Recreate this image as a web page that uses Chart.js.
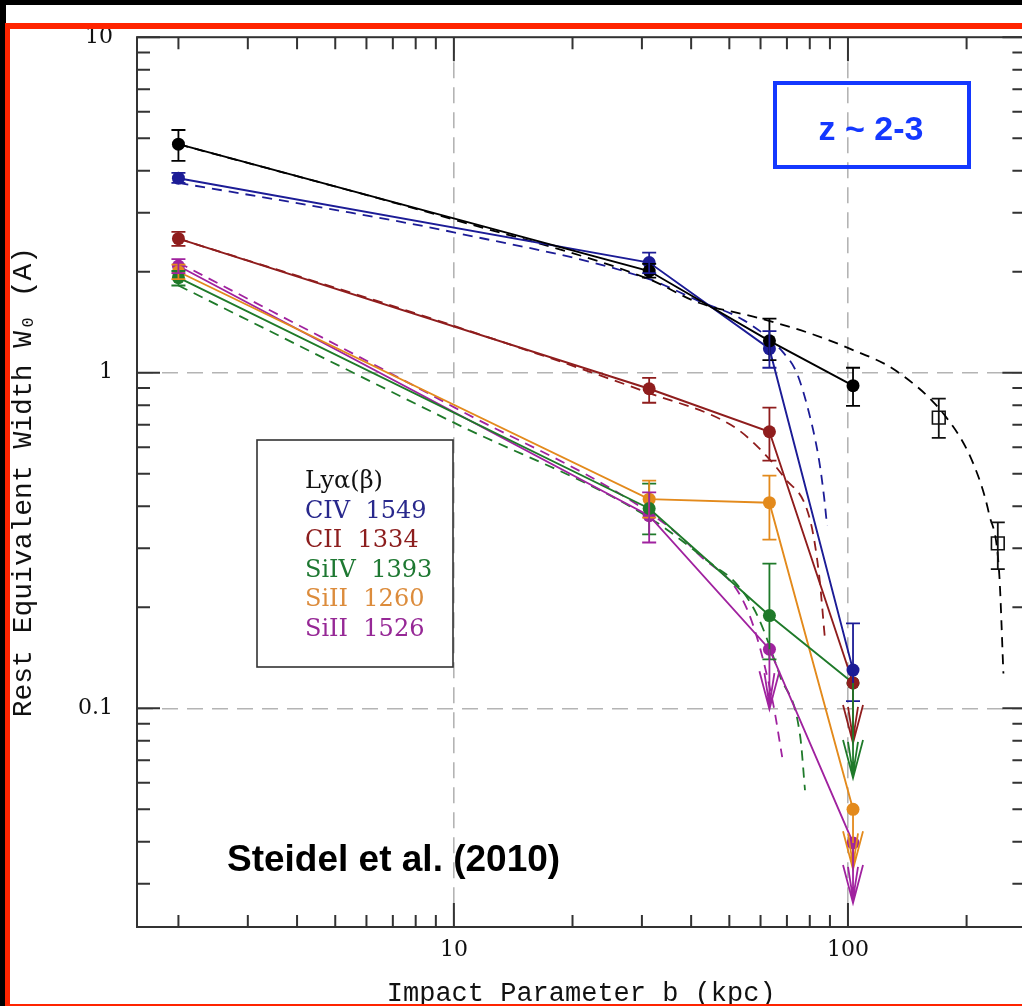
<!DOCTYPE html>
<html>
<head>
<meta charset="utf-8">
<script src="https://cdn.jsdelivr.net/npm/chart.js@4.4.1/dist/chart.umd.min.js"></script>
<style>
  html, body { margin: 0; padding: 0; background: #fff; overflow: hidden; }
  #caixa { position: absolute; left: 0; top: 0; width: 1036px; height: 1006px; }
  .faixa { position: absolute; }
</style>
</head>
<body>
<div id="caixa"><canvas id="grafico"></canvas></div>
<div class="faixa" style="left:0;top:0;width:1022px;height:5px;background:#000"></div>
<div class="faixa" style="left:0;top:0;width:6px;height:1006px;background:#000"></div>
<div class="faixa" style="left:5px;top:23px;width:1017px;height:6px;background:#ff2400"></div>
<div class="faixa" style="left:5px;top:23px;width:5px;height:983px;background:#ff2400"></div>
<div class="faixa" style="left:5px;top:1004px;width:1017px;height:2px;background:#ff2400"></div>
<script>
// DADOS: parâmetro de impacto (kpc) e largura equivalente (A)
const distancias = [2.0, 31.3, 63.2, 103]

const lyaW  = [4.80, 2.01, 1.245, 0.915]
const lyaHi = [5.29, 2.11, 1.45, 1.035]
const lyaLo = [4.28, 1.92, 1.09, 0.797]
const lyaLim = [false, false, false, false]

const civW  = [3.80, 2.13, 1.18, 0.130]
const civHi = [3.94, 2.28, 1.33, 0.179]
const civLo = [3.68, 1.98, 1.035, 0.105]
const civLim = [false, false, false, false]

const ciiW  = [2.51, 0.896, 0.667, 0.119]
const ciiHi = [2.63, 0.966, 0.787, null]
const ciiLo = [2.39, 0.814, 0.547, null]
const ciiLim = [false, false, false, true]

const sivW  = [1.92, 0.394, 0.189, 0.119]
const sivHi = [2.01, 0.467, 0.270, null]
const sivLo = [1.82, 0.330, 0.140, null]
const sivLim = [false, false, false, true]

const si1260W  = [2.00, 0.420, 0.410, 0.050]
const si1260Hi = [2.10, 0.477, 0.494, null]
const si1260Lo = [1.90, 0.370, 0.318, null]
const si1260Lim = [false, false, false, true]

const si1526W  = [2.08, 0.375, 0.150, 0.0397]
const si1526Hi = [2.18, 0.440, null, null]
const si1526Lo = [1.98, 0.312, null, null]
const si1526Lim = [false, false, true, true]

// quadrados abertos (Ly-alpha, amostra externa)
const extraB  = [170, 240]
const extraW  = [0.735, 0.310]
const extraHi = [0.837, 0.358]
const extraLo = [0.640, 0.260]

// curvas tracejadas (modelos)
const modLyaB = [2.0, 10, 31.3, 41.6, 58.9, 80.2, 101, 133, 177.8, 208, 228, 242, 248]
const modLyaW = [4.80, 2.86, 1.90, 1.62, 1.46, 1.31, 1.18, 1.01, 0.735, 0.536, 0.380, 0.252, 0.127]

const modCivB = [2.0, 4.83, 10, 31.3, 41.6, 54.6, 68.9, 74.3, 80.2, 84.5, 87.0, 88.5]
const modCivW = [3.68, 3.08, 2.62, 1.90, 1.64, 1.43, 1.14, 0.993, 0.735, 0.547, 0.425, 0.350]

const modCiiB = [2.0, 10, 31.3, 50.4, 57.9, 68.9, 80.2, 84.5, 87.5]
const modCiiW = [2.51, 1.38, 0.870, 0.700, 0.615, 0.487, 0.363, 0.249, 0.159]

const modSivB = [2.0, 10, 31.3, 45.9, 51.8, 58.9, 67.3, 75.7, 77.8]
const modSivW = [1.82, 0.71, 0.370, 0.265, 0.237, 0.189, 0.1245, 0.082, 0.057]

const modSi1526B = [2.0, 10, 34.3, 41.6, 55.6, 64.3, 68.1]
const modSi1526W = [2.13, 0.79, 0.355, 0.289, 0.196, 0.106, 0.0715]

// ticks dos eixos
const xMaiores = [10, 100]
const xMenores = [2, 3, 4, 5, 6, 7, 8, 9, 20, 30, 40, 50, 60, 70, 80, 90, 200]
const yMaiores = [0.1, 1, 10]
const yMenores = [0.03, 0.04, 0.05, 0.06, 0.07, 0.08, 0.09, 0.2, 0.3, 0.4, 0.5, 0.6, 0.7, 0.8, 0.9, 2, 3, 4, 5, 6, 7, 8, 9]

const pts = (xs, ys) => xs.map((x, i) => ({x, y: ys[i]}))

const medidas = [
  {label: 'Lyα(β)',    cor: '#000000', texto: '#111111', w: lyaW,    hi: lyaHi,    lo: lyaLo,    lim: lyaLim},
  {label: 'CIV  1549', cor: '#1c1c96', texto: '#28288c', w: civW,    hi: civHi,    lo: civLo,    lim: civLim},
  {label: 'CII  1334', cor: '#8f1d1d', texto: '#8c1e1e', w: ciiW,    hi: ciiHi,    lo: ciiLo,    lim: ciiLim},
  {label: 'SiIV  1393', cor: '#1f7a2a', texto: '#1e7832', w: sivW,   hi: sivHi,    lo: sivLo,    lim: sivLim, seta: 95},
  {label: 'SiII  1260', cor: '#e38a1c', texto: '#dc8c3c', w: si1260W, hi: si1260Hi, lo: si1260Lo, lim: si1260Lim},
  {label: 'SiII  1526', cor: '#a0229f', texto: '#962896', w: si1526W, hi: si1526Hi, lo: si1526Lo, lim: si1526Lim}
]

const modelos = [
  {cor: '#000000', b: modLyaB, w: modLyaW},
  {cor: '#1c1c96', b: modCivB, w: modCivW},
  {cor: '#8f1d1d', b: modCiiB, w: modCiiW},
  {cor: '#1f7a2a', b: modSivB, w: modSivW},
  {cor: '#a0229f', b: modSi1526B, w: modSi1526W}
]

const datasets = []
medidas.forEach(m => datasets.push({
  label: m.label,
  data: pts(distancias, m.w),
  showLine: true,
  borderColor: m.cor,
  backgroundColor: m.cor,
  borderWidth: 1.9,
  pointRadius: 6.5,
  pointBorderWidth: 0,
  pointBackgroundColor: m.cor
}))
modelos.forEach(m => datasets.push({
  data: pts(m.b, m.w),
  showLine: true,
  borderColor: m.cor,
  borderWidth: 1.8,
  borderDash: [10, 7],
  pointRadius: 0,
  cubicInterpolationMode: 'monotone'
}))
datasets.push({
  data: pts(extraB, extraW),
  showLine: false,
  pointStyle: 'rect',
  pointRadius: 9,
  pointBorderWidth: 1.6,
  pointBorderColor: '#111',
  pointBackgroundColor: '#fff'
})

const rotulo = v => String(Number(v.toPrecision(1)))

// barras de erro, setas, moldura, legenda e textos
const enfeites = {
  id: 'enfeites',
  afterDatasetsDraw(chart) {
    const {ctx, chartArea: a, scales: {x, y}} = chart
    ctx.save()
    ctx.lineWidth = 1.8

    const barra = (px, yHi, yLo, cor) => {
      const p1 = y.getPixelForValue(yHi), p2 = y.getPixelForValue(yLo)
      ctx.strokeStyle = cor
      ctx.beginPath()
      ctx.moveTo(px, p1); ctx.lineTo(px, p2)
      ctx.moveTo(px - 7, p1); ctx.lineTo(px + 7, p1)
      ctx.moveTo(px - 7, p2); ctx.lineTo(px + 7, p2)
      ctx.stroke()
    }

    medidas.forEach(m => {
      distancias.forEach((b, i) => {
        const px = x.getPixelForValue(b)
        if (m.lim[i]) {
          const py = y.getPixelForValue(m.w[i])
          const ponta = py + (m.seta || 60)
          ctx.strokeStyle = m.cor
          ctx.beginPath()
          ctx.moveTo(px, py); ctx.lineTo(px, ponta)
          ctx.moveTo(px - 10, ponta - 38); ctx.lineTo(px, ponta); ctx.lineTo(px + 10, ponta - 38)
          ctx.moveTo(px - 5, ponta - 36); ctx.lineTo(px, ponta - 4); ctx.lineTo(px + 5, ponta - 36)
          ctx.stroke()
        } else if (m.hi[i] != null) {
          barra(px, m.hi[i], m.lo[i], m.cor)
        }
      })
    })
    extraB.forEach((b, i) => barra(x.getPixelForValue(b), extraHi[i], extraLo[i], '#111'))

    // moldura com ticks para dentro
    ctx.strokeStyle = '#333'
    ctx.lineWidth = 2
    ctx.strokeRect(a.left, a.top, a.right - a.left, a.bottom - a.top)
    ctx.beginPath()
    const tickX = (v, len) => {
      const px = x.getPixelForValue(v)
      ctx.moveTo(px, a.bottom); ctx.lineTo(px, a.bottom - len)
      ctx.moveTo(px, a.top); ctx.lineTo(px, a.top + len)
    }
    const tickY = (v, len) => {
      const py = y.getPixelForValue(v)
      ctx.moveTo(a.left, py); ctx.lineTo(a.left + len, py)
      ctx.moveTo(a.right, py); ctx.lineTo(a.right - len, py)
    }
    xMenores.forEach(v => tickX(v, 12))
    xMaiores.forEach(v => tickX(v, 24))
    yMenores.forEach(v => tickY(v, 13))
    yMaiores.forEach(v => tickY(v, 23))
    ctx.stroke()

    // legenda
    ctx.lineWidth = 1.6
    ctx.strokeStyle = '#333'
    ctx.strokeRect(257, 440, 196, 227)
    ctx.font = '24px "DejaVu Serif"'
    ctx.textBaseline = 'middle'
    ctx.textAlign = 'left'
    medidas.forEach((m, i) => {
      ctx.fillStyle = m.texto
      ctx.fillText(m.label, 305, 482 + i * 29.5)
    })

    // caixa z ~ 2-3
    ctx.strokeStyle = '#1438ff'
    ctx.lineWidth = 4
    ctx.strokeRect(775, 83, 194, 84)
    ctx.fillStyle = '#1438ff'
    ctx.font = 'bold 34px "Liberation Sans"'
    ctx.textAlign = 'center'
    ctx.fillText('z ~ 2-3', 871, 131)

    // referência
    ctx.fillStyle = '#000'
    ctx.textAlign = 'left'
    ctx.font = 'bold 37px "Liberation Sans"'
    ctx.fillText('Steidel et al. (2010)', 227, 861)
    ctx.restore()
  }
}

Chart.defaults.font.family = '"DejaVu Serif"'
Chart.defaults.color = '#111'

const config = {
  type: 'scatter',
  data: {datasets},
  options: {
    responsive: true,
    maintainAspectRatio: false,
    animation: false,
    layout: {padding: {left: 10, top: 36, right: 6, bottom: 0}},
    plugins: {legend: {display: false}, tooltip: {enabled: false}},
    scales: {
      x: {
        type: 'logarithmic',
        min: 1.57,
        max: 282,
        afterBuildTicks: s => { s.ticks = xMaiores.map(v => ({value: v})) },
        afterFit: s => { s.height = 79 },
        ticks: {autoSkip: false, maxRotation: 0, padding: 10, font: {size: 22}, callback: v => rotulo(v)},
        grid: {drawTicks: false, color: '#b4b4b4', lineWidth: 1.6},
        border: {display: false, dash: [16, 9]},
        title: {display: true, text: 'Impact Parameter b (kpc)', font: {family: '"Liberation Mono"', size: 27, lineHeight: 0.9}, padding: 0}
      },
      y: {
        type: 'logarithmic',
        min: 0.0223,
        max: 10,
        afterBuildTicks: s => { s.ticks = yMaiores.map(v => ({value: v})) },
        afterFit: s => { s.width = 127 },
        ticks: {autoSkip: false, padding: 24, font: {size: 22}, callback: v => rotulo(v)},
        grid: {drawTicks: false, color: c => (c.tick && c.tick.value < 9) ? '#b4b4b4' : 'rgba(0,0,0,0)', lineWidth: 1.6},
        border: {display: false, dash: [16, 9]},
        title: {display: true, text: 'Rest Equivalent Width W₀ (A)', font: {family: '"Liberation Mono"', size: 28, lineHeight: 0.95}, padding: 0}
      }
    }
  },
  plugins: [enfeites]
}

const rg = document.getElementById('grafico').getContext('2d')
const meuGrafico = new Chart(rg, config)
</script>
</body>
</html>
